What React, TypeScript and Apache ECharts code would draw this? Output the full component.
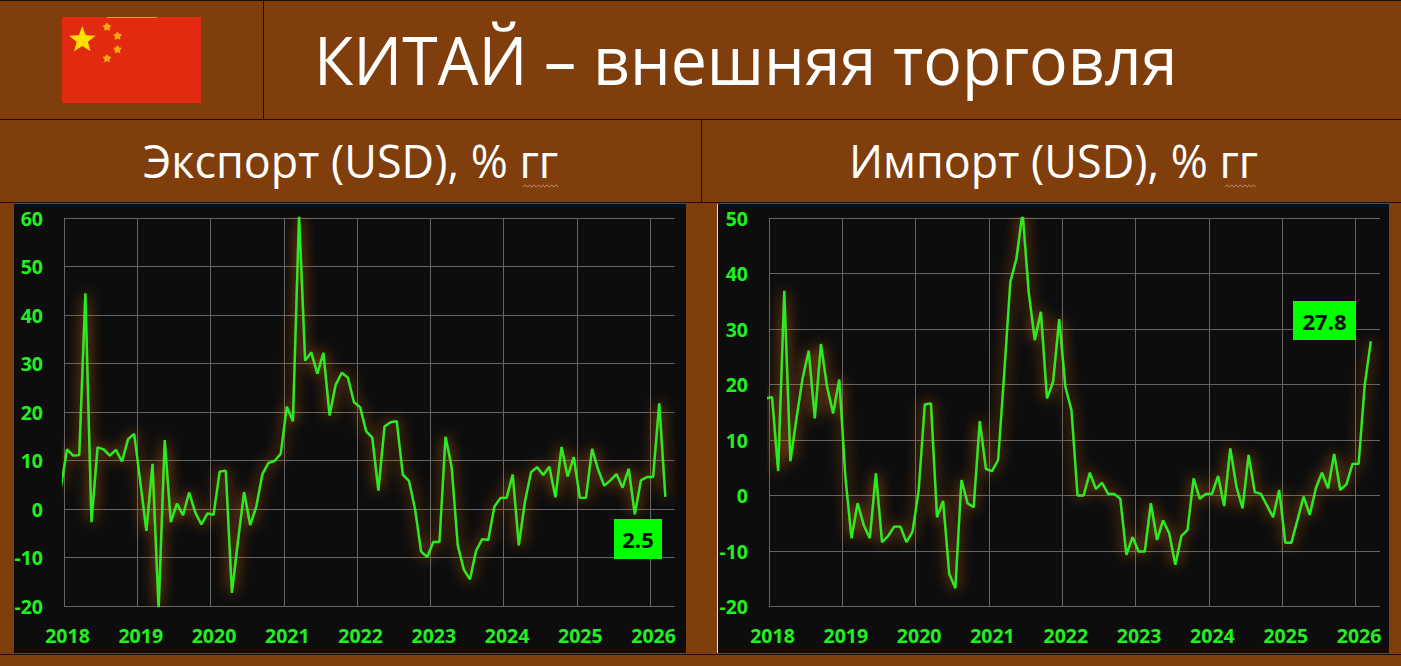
import React, { useEffect, useRef } from "react";
import * as echarts from "echarts";

// Months since January 2018; the first value (December 2017) falls just outside the axis and is clipped.
const exportValues = [4.5,
  12.3, 11, 11.1, 44.5, -2.7, 12.7, 12.3, 11, 12.2, 9.8, 14.4, 15.5,
  5.6, -4.5, 9.3, -20.7, 14.2, -2.7, 1.1, -1.3, 3.4, -0.7, -3.2, -0.9,
  -1.2, 7.7, 7.9, -17.3, -6.6, 3.5, -3.3, 0.5, 7.2, 9.5, 9.9, 11.4,
  21.1, 18.1, 60.6, 30.6, 32.3, 27.9, 32.2, 19.3, 25.6, 28.1, 27.1, 22,
  21, 16, 14.7, 3.8, 17, 17.9, 18.1, 7.1, 5.8, 0, -8.8, -9.9,
  -6.8, -6.8, 14.9, 8.6, -7.5, -12.5, -14.5, -8.6, -6.2, -6.4, 0.5, 2.3,
  2.3, 7.1, -7.5, 1.5, 7.6, 8.6, 7, 8.7, 2.4, 12.8, 6.7, 10.7,
  2.3, 2.3, 12.4, 8.1, 4.8, 5.9, 7.2, 4.4, 8.3, -1.1, 5.9, 6.6,
  6.6, 21.8, 2.5,
];

const importValues = [17.5,
  17.7, 4.4, 36.9, 6.2, 13.9, 21.1, 26.1, 13.9, 27.3, 19.6, 14.8, 20.9,
  3.4, -7.7, -1.4, -5.3, -7.7, 4, -8.4, -7.3, -5.6, -5.6, -8.4, -6.5,
  1, 16.4, 16.6, -3.9, -1, -14.1, -16.7, 2.8, -1.4, -2.1, 13.4, 4.8,
  4.4, 6.4, 22, 38.5, 42.7, 51, 36.7, 28, 33.1, 17.5, 20.5, 31.8,
  19.6, 15.4, 0, 0, 4.1, 1.2, 2.3, 0.3, 0.3, -0.6, -10.7, -7.5,
  -10.1, -10.1, -1.4, -8, -4.5, -6.8, -12.5, -7.3, -6.2, 3.1, -0.6, 0.3,
  0.3, 3.5, -1.9, 8.5, 1.6, -2.3, 7.3, 0.6, 0.3, -1.8, -3.9, 1,
  -8.5, -8.5, -4.4, -0.2, -3.5, 1.3, 4.1, 1.3, 7.5, 1, 2, 5.7,
  5.7, 19.9, 27.8,
];

const firstYear = 2018;
const monthsOnAxis = 100;
const exportTitle = "Экспорт (USD), % гг";
const importTitle = "Импорт (USD), % гг";
const mainTitle = "КИТАЙ – внешняя торговля";

const BROWN = "#7f3e0c";
const GREEN = "#20f020";
const FONT = '"Open Sans", "Noto Sans", sans-serif';

const toPoints = (values: number[]) => values.map((v, i) => [i - 0.5, v]);

function starPoints(cx: number, cy: number, r: number, inner = 0.42) {
  const pts: number[][] = [];
  for (let i = 0; i < 10; i++) {
    const a = -Math.PI / 2 + (i * Math.PI) / 5;
    const rr = i % 2 === 0 ? r : r * inner;
    pts.push([cx + rr * Math.cos(a), cy + rr * Math.sin(a)]);
  }
  return pts;
}

function squiggle(x0: number, x1: number, y: number) {
  const pts: number[][] = [];
  let up = false;
  for (let x = x0; x <= x1; x += 2.2) {
    pts.push([x, up ? y - 1.2 : y + 1.2]);
    up = !up;
  }
  return pts;
}

const frameLine = (x1: number, y1: number, x2: number, y2: number) => ({
  type: "line",
  z: 1,
  shape: { x1, y1, x2, y2 },
  style: { stroke: "#1d0f04", lineWidth: 1 },
});

const title = (text: string, x: number, y: number, fontSize: number, scaleX: number) => ({
  type: "text",
  z: 100,
  x,
  y,
  scaleX,
  style: { text, fill: "#ffffff", font: `${fontSize}px ${FONT}`, textAlign: "left", textVerticalAlign: "middle" },
});

const valueBadge = (value: number, x: number, y: number, width: number, height: number) => [
  { type: "rect", z: 100, shape: { x, y, width, height }, style: { fill: "#00ff00" } },
  {
    type: "text",
    z: 101,
    x: x + width / 2,
    y: y + height / 2,
    style: {
      text: value.toFixed(1),
      fill: "#0d0d0d",
      font: `bold 22px ${FONT}`,
      textAlign: "center",
      textVerticalAlign: "middle",
    },
  },
];

const xAxis = (gridIndex: number) => ({
  type: "value",
  gridIndex,
  min: 0,
  max: monthsOnAxis,
  interval: 12,
  axisLine: { show: false },
  axisTick: { show: false },
  axisLabel: {
    color: GREEN,
    fontFamily: FONT,
    fontWeight: "bold",
    fontSize: 19.5,
    margin: 19,
    padding: [0, 0, 0, 7],
    showMaxLabel: false,
    formatter: (v: number) => (v % 12 === 0 ? String(firstYear + v / 12) : ""),
  },
  splitLine: { show: true, showMaxLine: false, lineStyle: { color: "#646464", width: 1 } },
});

const yAxis = (gridIndex: number, min: number, max: number) => ({
  type: "value",
  gridIndex,
  min,
  max,
  interval: 10,
  axisLine: { show: false },
  axisTick: { show: false },
  axisLabel: { color: GREEN, fontFamily: FONT, fontWeight: "bold", fontSize: 19.5, margin: 21 },
  splitLine: { show: true, lineStyle: { color: "#646464", width: 1 } },
});

const lineSeries = (values: number[], index: number) => ({
  type: "line",
  xAxisIndex: index,
  yAxisIndex: index,
  data: toPoints(values),
  showSymbol: false,
  symbol: "none",
  clip: true,
  lineStyle: { color: GREEN, width: 2.4, shadowColor: "#e0701e", shadowBlur: 14 },
});

export default function App() {
  const ref = useRef<HTMLDivElement>(null);
  useEffect(() => {
    const chart = echarts.init(ref.current!, undefined, { renderer: "svg" });
    chart.setOption({
      animation: false,
      backgroundColor: BROWN,
      grid: [
        { left: 64, top: 218, width: 610.5, height: 388 },
        { left: 769, top: 218, width: 611, height: 388.5 },
      ],
      xAxis: [xAxis(0), xAxis(1)],
      yAxis: [yAxis(0, -20, 60), yAxis(1, -20, 50)],
      series: [lineSeries(exportValues, 0), lineSeries(importValues, 1)],
      graphic: [
        { type: "rect", z: -1, shape: { x: 14, y: 204, width: 672, height: 449 }, style: { fill: "#0d0d0d" } },
        { type: "rect", z: -1, shape: { x: 717, y: 204, width: 672, height: 449 }, style: { fill: "#0d0d0d" } },
        { type: "line", z: 1, shape: { x1: 717.5, y1: 204, x2: 717.5, y2: 653 }, style: { stroke: "#e8e0d8", lineWidth: 1 } },
        frameLine(0, 0.5, 1401, 0.5),
        frameLine(0, 119.5, 1401, 119.5),
        frameLine(0, 202.5, 1401, 202.5),
        frameLine(0, 654.5, 1401, 654.5),
        frameLine(263.5, 0, 263.5, 119),
        frameLine(701.5, 119, 701.5, 202),
        { type: "rect", z: 5, shape: { x: 62, y: 17, width: 139, height: 86 }, style: { fill: "#e12a10" } },
        { type: "line", z: 6, shape: { x1: 107, y1: 17.5, x2: 157, y2: 17.5 }, style: { stroke: "#f0962a", lineWidth: 1 } },
        { type: "polygon", z: 6, shape: { points: starPoints(82.3, 40, 14) }, style: { fill: "#ffe000" } },
        { type: "polygon", z: 6, shape: { points: starPoints(107, 27, 4.6, 0.6) }, style: { fill: "#f5a810" } },
        { type: "polygon", z: 6, shape: { points: starPoints(117.5, 36, 4.6, 0.6) }, style: { fill: "#f5a810" } },
        { type: "polygon", z: 6, shape: { points: starPoints(117.5, 49.5, 4.6, 0.6) }, style: { fill: "#f5a810" } },
        { type: "polygon", z: 6, shape: { points: starPoints(107, 58.5, 4.6, 0.6) }, style: { fill: "#f5a810" } },
        title(mainTitle, 314, 58, 68, 0.947),
        title(exportTitle, 143, 160, 46, 0.976),
        title(importTitle, 849, 160, 46, 0.976),
        { type: "polyline", z: 6, shape: { points: squiggle(523, 559, 186) }, style: { stroke: "#c98a6a", lineWidth: 1, fill: "none" } },
        { type: "polyline", z: 6, shape: { points: squiggle(1225, 1258, 186) }, style: { stroke: "#c98a6a", lineWidth: 1, fill: "none" } },
        ...valueBadge(exportValues[exportValues.length - 1], 614, 519, 48, 40),
        ...valueBadge(importValues[importValues.length - 1], 1293, 301, 63, 39),
      ],
    });
    return () => chart.dispose();
  }, []);
  return <div ref={ref} style={{ position: "fixed", left: 0, top: 0, width: 1401, height: 666 }} />;
}
